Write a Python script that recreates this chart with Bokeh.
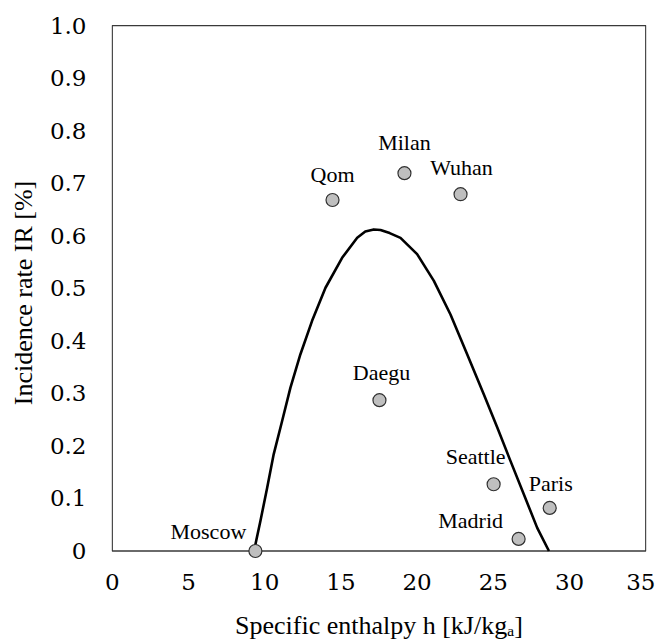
from bokeh.plotting import figure
from bokeh.models import ColumnDataSource, FixedTicker, Range1d, BoxAnnotation
from bokeh.core.properties import value
from bokeh.embed import file_html
from bokeh.resources import INLINE

# Data
cities = ["Moscow", "Qom", "Milan", "Wuhan", "Daegu", "Seattle", "Paris", "Madrid"]
enthalpy = [9.39, 14.45, 19.17, 22.85, 17.53, 25.02, 28.70, 26.66]
incidence = [0.0, 0.668, 0.719, 0.679, 0.287, 0.127, 0.082, 0.023]

curve_h = [9.30, 9.72, 10.16, 10.59, 11.14, 11.69, 12.34, 13.11, 13.99, 15.08, 16.07,
           16.6, 17.16, 17.6, 18.2, 18.91, 20.0, 21.1, 22.19, 23.29, 24.38, 25.26,
           26.13, 27.0, 27.88, 28.65]
curve_ir = [0.0, 0.057, 0.120, 0.184, 0.247, 0.311, 0.374, 0.438, 0.501, 0.558, 0.596,
            0.608, 0.612, 0.611, 0.605, 0.596, 0.565, 0.514, 0.450, 0.374, 0.298, 0.235,
            0.171, 0.108, 0.044, 0.0]

x_ticks = [0, 5, 10, 15, 20, 25, 30, 35]
y_ticks = [0, 0.1, 0.2, 0.3, 0.4, 0.5, 0.6, 0.7, 0.8, 0.9, 1.0]
y_tick_labels = {0: "0", 0.1: "0.1", 0.2: "0.2", 0.3: "0.3", 0.4: "0.4", 0.5: "0.5",
                 0.6: "0.6", 0.7: "0.7", 0.8: "0.8", 0.9: "0.9", 1.0: "1.0"}

# label pixel offsets (style)
label_dx = [-47, 0, 0, 1, 2, -18, 1, -48]
label_dy = [-19, -25, -31, -27, -28, -28, -24, -18]

FONT = "Liberation Serif"
TICK_FONT = "DejaVu Serif"
AX = "#3a3a3a"

p = figure(frame_width=535, frame_height=537, output_backend="svg", toolbar_location=None,
           x_range=Range1d(-0.05, 35.05), y_range=Range1d(-0.02, 1.002),
           min_border_left=111, min_border_right=9, min_border_top=24, min_border_bottom=70)

p.xgrid.visible = False
p.ygrid.visible = False
p.outline_line_color = None
p.background_fill_color = "white"
p.border_fill_color = "white"

p.xaxis.ticker = FixedTicker(ticks=x_ticks)
p.yaxis.ticker = FixedTicker(ticks=y_ticks)
p.yaxis.major_label_overrides = y_tick_labels
for ax in (p.xaxis[0], p.yaxis[0]):
    ax.major_tick_in = 0
    ax.major_tick_out = 0
    ax.minor_tick_in = 0
    ax.minor_tick_out = 0
    ax.axis_line_color = None
    ax.major_label_text_font = TICK_FONT
    ax.major_label_text_font_size = "23px"
    ax.major_label_text_color = "black"
    ax.axis_label_text_font = FONT
    ax.axis_label_text_font_size = "26px"
    ax.axis_label_text_font_style = "normal"
    ax.axis_label_text_color = "black"

p.xaxis.axis_label = "Specific enthalpy h [kJ/kg\u2090]"
p.yaxis.axis_label = "Incidence rate IR [%]"
p.xaxis.major_label_standoff = 12
p.yaxis.major_label_standoff = 25
p.xaxis.axis_label_standoff = 18
p.yaxis.axis_label_standoff = 9

# plot box from (0,0) to (35,1)
p.add_layout(BoxAnnotation(left=0, right=35, bottom=0, top=1.0, fill_alpha=0,
                           line_color=AX, line_alpha=1.0, line_width=1.3, level="underlay"))

# fitted curve
p.line(curve_h, curve_ir, line_color="black", line_width=2.6, line_join="round")

src = ColumnDataSource(dict(x=enthalpy, y=incidence, name=cities, dx=label_dx, dy=label_dy))
p.scatter("x", "y", source=src, size=13, fill_color="#bfbfbf", line_color="#303030", line_width=1.2)
p.text("x", "y", text="name", source=src, x_offset="dx", y_offset="dy",
       text_align="center", text_baseline="middle",
       text_font=value(FONT), text_font_size="22px", text_color="black")

open("out.html", "w").write(file_html(p, INLINE))
